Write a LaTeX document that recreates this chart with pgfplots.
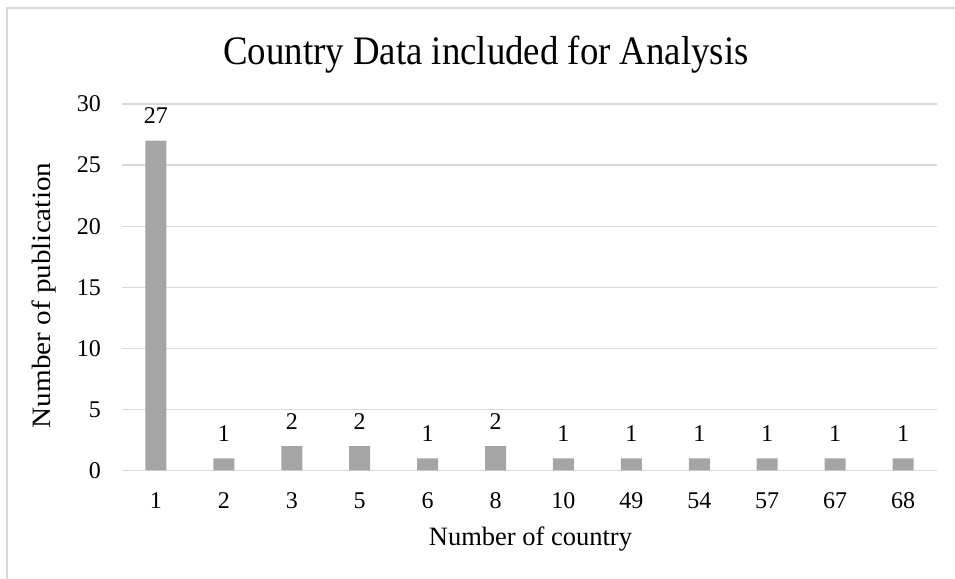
\documentclass[border=0pt]{standalone}
\usepackage{fontspec}
\setmainfont{Liberation Serif}
\usepackage{pgfplots}
\pgfplotsset{compat=1.18}
\definecolor{gridgray}{RGB}{217,217,217}
\definecolor{bargray}{RGB}{165,165,165}
\begin{document}
\begin{tikzpicture}[x=1pt,y=1pt]
\useasboundingbox (0,0) rectangle (955,578);
% chart frame
\draw[gridgray, line width=1.3pt] (7,-20) rectangle (980,570);
\begin{axis}[
  at={(122pt,107.5pt)}, anchor=south west, scale only axis,
  width=815pt, height=366.5pt,
  xmin=-0.5, xmax=11.5, ymin=0, ymax=30,
  axis line style={draw=none},
  major tick length=0pt,
  ymajorgrids, grid style={gridgray, line width=1.3pt},
  xtick={0,...,11},
  xticklabels={1,2,3,5,6,8,10,49,54,57,67,68},
  ytick={0,5,...,30},
  /pgf/number format/assume math mode=true,
  ticklabel style={font=\fontsize{24}{28}\selectfont, inner sep=0pt},
  yticklabel style={anchor=east, xshift=-21pt},
  xticklabel style={anchor=base, yshift=-38pt},
  ybar, bar width=21pt,
  nodes near coords,
  every node near coord/.append style={font=\fontsize{24}{28}\selectfont, inner sep=0pt, anchor=south, yshift=16.5pt, text=black},
]
\addplot[fill=bargray, draw=none] coordinates {
  (0,27) (1,1) (2,2) (3,2) (4,1) (5,2)
  (6,1) (7,1) (8,1) (9,1) (10,1) (11,1)
};
\end{axis}
\node[font=\fontsize{36.8}{42}\selectfont, anchor=base, inner sep=0pt, yscale=1.1] at (486,513) {Country Data included for Analysis};
\node[font=\fontsize{26.5}{30}\selectfont, anchor=base, inner sep=0pt] at (530.5,33) {Number of country};
\node[font=\fontsize{26.5}{30}\selectfont, anchor=base, inner sep=0pt, yscale=1.1, rotate=90] at (50,282.5) {Number of publication};
\end{tikzpicture}
\end{document}
